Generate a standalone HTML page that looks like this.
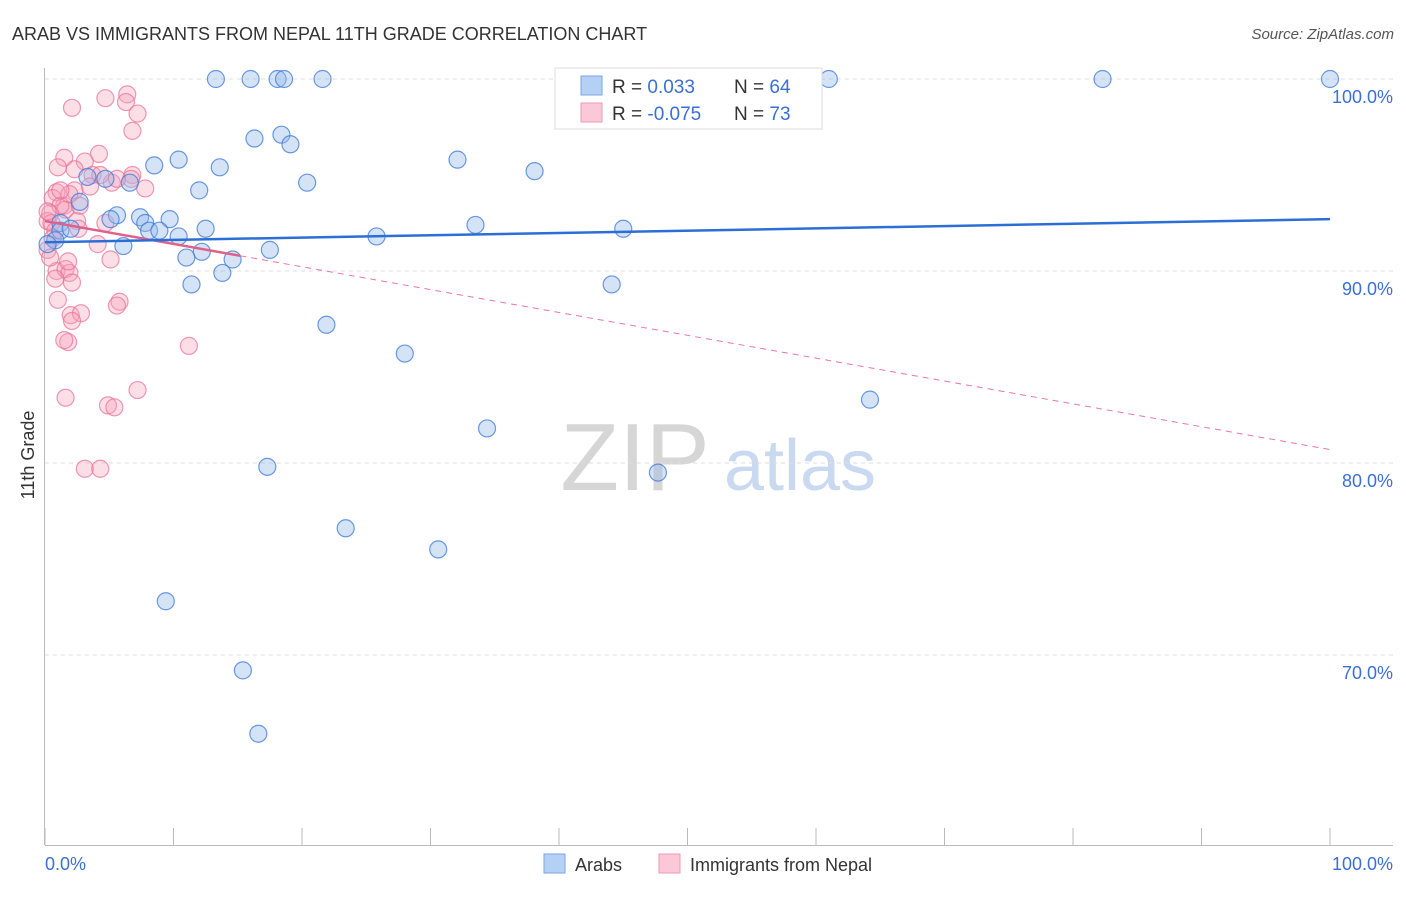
<!DOCTYPE html>
<html><head><meta charset="utf-8">
<style>
body{margin:0;background:#fff;font-family:"Liberation Sans",sans-serif;}
svg text{font-family:"Liberation Sans",sans-serif;}
</style></head>
<body>
<svg id="chart" width="1406" height="892" xmlns="http://www.w3.org/2000/svg">
<text x="12" y="40" font-size="18" fill="#333">ARAB VS IMMIGRANTS FROM NEPAL 11TH GRADE CORRELATION CHART</text>
<text x="1394" y="39" font-size="15" fill="#555" text-anchor="end" font-style="italic">Source: ZipAtlas.com</text>
<g>
<text x="635" y="490" font-size="96" fill="#d6d6d6" text-anchor="middle" font-family="Liberation Serif">ZIP</text>
<text x="800" y="490" font-size="72" fill="#c9d9f0" text-anchor="middle">atlas</text>
</g>
<g id="grid"></g>
<g id="axes"></g>
<g id="pts"></g>
<g id="trends"></g>
<text x="34" y="455" font-size="18" fill="#333" text-anchor="middle" transform="rotate(-90 34 455)">11th Grade</text>
<text x="45" y="870" font-size="18" fill="#3a6fd8">0.0%</text>
<text x="1393" y="870" font-size="18" fill="#3a6fd8" text-anchor="end">100.0%</text>
<g>
<rect x="555" y="68" width="267" height="61" fill="#fff" stroke="#ddd"/>
<rect x="581" y="76" width="21" height="19" fill="#b5d0f5" stroke="#7aa6e6"/>
<rect x="581" y="103" width="21" height="19" fill="#fac8d6" stroke="#ee9ab4"/>
<text x="612" y="93" font-size="19" fill="#333">R = <tspan fill="#3a6fd8">0.033</tspan></text>
<text x="734" y="93" font-size="19" fill="#333">N = <tspan fill="#3a6fd8">64</tspan></text>
<text x="612" y="120" font-size="19" fill="#333">R = <tspan fill="#3a6fd8">-0.075</tspan></text>
<text x="734" y="120" font-size="19" fill="#333">N = <tspan fill="#3a6fd8">73</tspan></text>
</g>
<g>
<rect x="544" y="854" width="21" height="19" fill="#b5d0f5" stroke="#7aa6e6"/>
<text x="575" y="871" font-size="18" fill="#333">Arabs</text>
<rect x="659" y="854" width="21" height="19" fill="#fac8d6" stroke="#ee9ab4"/>
<text x="690" y="871" font-size="18" fill="#333">Immigrants from Nepal</text>
</g>
</svg>
<script>
const yTicks=[100,90,80,70];
const yTickLabels=["100.0%","90.0%","80.0%","70.0%"];
const arabX=[13.3,16.0,18.1,18.6,21.6,47.0,61.0,82.3,100,16.3,18.4,19.1,10.4,8.5,13.6,32.1,38.1,6.6,4.7,20.4,12.0,5.6,9.7,12.5,7.4,7.8,8.1,5.1,33.5,45.0,1.2,1.2,10.4,8.9,25.8,6.1,12.2,11.0,17.5,14.6,13.8,11.4,44.1,0.8,0.2,2.0,2.7,3.3,21.9,28.0,64.2,34.4,47.7,17.3,23.4,30.6,9.4,15.4,16.6];
const arabY=[100,100,100,100,100,100,100,100,100,96.9,97.1,96.6,95.8,95.5,95.4,95.8,95.2,94.6,94.8,94.6,94.2,92.9,92.7,92.2,92.8,92.5,92.1,92.7,92.4,92.2,92.5,92.1,91.8,92.1,91.8,91.3,91.0,90.7,91.1,90.6,89.9,89.3,89.3,91.6,91.4,92.2,93.6,94.9,87.2,85.7,83.3,81.8,79.5,79.8,76.6,75.5,72.8,69.2,65.9];
const nepX=[2.1,4.7,6.4,6.3,7.2,6.8,1.5,4.2,3.1,1.0,2.3,3.7,6.8,6.7,5.2,7.8,2.3,0.9,1.5,1.6,0.6,0.4,0.2,0.5,0.8,0.6,2.5,2.6,4.7,4.1,5.1,0.9,1.6,1.9,1.8,0.8,2.1,1.0,2.0,2.8,2.1,1.8,1.5,5.8,5.6,11.2,1.6,4.9,5.4,7.2,3.1,4.3,1.2,0.2,0.2,0.4,3.5,4.3,5.6,2.7,1.9,1.2];
const nepY=[98.5,99.0,99.2,98.8,98.2,97.3,95.9,96.1,95.7,95.4,95.3,95.0,95.0,94.8,94.6,94.3,94.2,94.1,93.4,93.2,93.8,93.0,92.6,92.5,92.1,91.7,92.6,92.2,92.5,91.4,90.6,90.0,90.1,89.9,90.5,89.6,89.4,88.5,87.7,87.8,87.4,86.3,86.4,88.4,88.2,86.1,83.4,83.0,82.9,83.8,79.7,79.7,93.4,93.1,91.1,90.7,94.4,95.0,94.8,93.4,94.0,94.2];
const blueTrend=[91.5,92.7];
const pinkTrend=[92.6,80.7];
const pinkSolidEnd=15.2;
const NS="http://www.w3.org/2000/svg";
const X0=45,X1=1330,Y100=79,PXPER=19.2;
function xs(v){return X0+(X1-X0)*v/100;}
function ys(v){return Y100+(100-v)*PXPER;}
function mk(tag,attrs,parent){const e=document.createElementNS(NS,tag);for(const k in attrs)e.setAttribute(k,attrs[k]);parent.appendChild(e);return e;}
const grid=document.getElementById('grid');
yTicks.forEach((t,i)=>{
 const l=mk('line',{x1:45,x2:1393,y1:ys(t),y2:ys(t),stroke:'#ddd','stroke-dasharray':'4,4'},grid);
 
 
 const tx=mk('text',{x:1393,y:ys(t)+24,'font-size':18,fill:'#3a6fd8','text-anchor':'end'},grid);
 tx.textContent=yTickLabels[i];
 
 
});
const axes=document.getElementById('axes');
const ya=mk('line',{x1:44.5,x2:44.5,y1:68,y2:845,stroke:'#bbb'},axes);


const xa=mk('line',{x1:45,x2:1393,y1:845.5,y2:845.5,stroke:'#bbb'},axes);


for(let i=0;i<=10;i++){
 const t=mk('line',{x1:xs(i*10),x2:xs(i*10),y1:828,y2:845,stroke:'#bbb'},axes);
 
 
}
const pts=document.getElementById('pts');
nepX.forEach((v,i)=>{
 const c=mk('circle',{cx:xs(v),cy:ys(nepY[i]),r:8.5,fill:'rgba(245,160,185,0.35)',stroke:'rgba(232,110,150,0.7)','stroke-width':1.2},pts);
 
 
});
arabX.forEach((v,i)=>{
 const c=mk('circle',{cx:xs(v),cy:ys(arabY[i]),r:8.5,fill:'rgba(150,185,235,0.4)',stroke:'rgba(60,120,215,0.75)','stroke-width':1.2},pts);
 
 
});
const tr=document.getElementById('trends');
function py(x){return pinkTrend[0]+(pinkTrend[1]-pinkTrend[0])*x/100;}
const pd=mk('line',{x1:xs(pinkSolidEnd),y1:ys(py(pinkSolidEnd)),x2:xs(100),y2:ys(py(100)),stroke:'#e8789c','stroke-width':1,'stroke-dasharray':'6,5'},tr);


const ps=mk('line',{x1:xs(0),y1:ys(py(0)),x2:xs(pinkSolidEnd),y2:ys(py(pinkSolidEnd)),stroke:'#e0608a','stroke-width':2.5},tr);


const bl=mk('line',{x1:xs(0),y1:ys(blueTrend[0]),x2:xs(100),y2:ys(blueTrend[1]),stroke:'#2b6fd6','stroke-width':2.5},tr);


</script>
</body></html>
